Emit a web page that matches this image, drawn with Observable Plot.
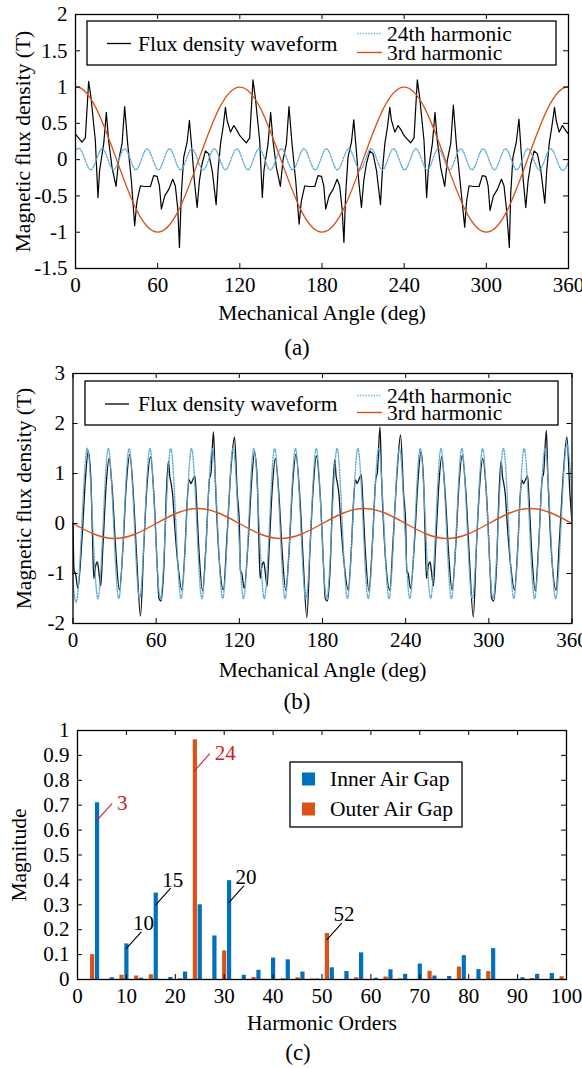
<!DOCTYPE html>
<html><head><meta charset="utf-8">
<script src="https://cdn.jsdelivr.net/npm/d3@7"></script>
<script src="https://cdn.jsdelivr.net/npm/@observablehq/plot@0.6"></script>
<style>
body{margin:0;background:#fff;}
#wrap{position:relative;width:582px;height:1068px;background:#fff;overflow:hidden;font-family:"Liberation Serif","Times New Roman",serif;}
</style></head><body><div id="wrap"></div>
<script>
// ---------------- DATA ----------------
const angleTicks = [0, 60, 120, 180, 240, 300, 360];
const fluxTicksA = [-1.5, -1, -0.5, 0, 0.5, 1, 1.5, 2];
const fluxTicksB = [-2, -1, 0, 1, 2, 3];
const orderTicks = [0, 10, 20, 30, 40, 50, 60, 70, 80, 90, 100];
const magTicks = [0, 0.1, 0.2, 0.3, 0.4, 0.5, 0.6, 0.7, 0.8, 0.9, 1];

// (a) flux density waveform [deg, T]
const waveA1 = [[0,0.35],[4.7,0.24],[7.2,0.30],[9.6,1.08],[11.3,0.86],[14.5,0.26],[16.4,-0.52],[17.6,-0.15],[20.6,0.22],[22.5,0.65],[24.2,0.26],[26.7,-0.11],[29.6,-0.37],[31.5,-0.01],[34,0.22],[35.9,0.73],[38.1,0.22],[40.8,-0.29],[43.2,-0.91],[44.9,-0.57],[47.4,-0.36],[50.3,-0.37],[54.7,-0.37],[57.1,-0.22],[59.6,-0.23],[61.3,-0.36],[62.7,-0.68],[65.2,-0.50],[68.1,-0.41],[71,-0.27],[72.9,-0.36],[74.7,-0.68],[75.9,-1.21],[77.3,-0.47],[79,0.03],[81.5,0.24],[83.2,0.54],[85.1,0.12],[86.8,-0.29],[88.8,-0.66],[90.5,-0.29],[92.4,-0.06],[94.9,0.12],[97.3,0.08],[99.8,-0.15],[102.7,-0.62],[104.1,-0.15],[105.9,0.22],[107.8,0.45],[109.5,0.72],[110.7,0.54],[113.2,0.38],[115.6,0.47],[118,0.40]];
const waveA2 = [[120,0.33],[124.7,0.23],[127.2,0.30],[129.6,1.10],[131.3,0.86],[134.5,0.26],[136.4,-0.52],[137.6,-0.15],[140.6,0.22],[142.5,0.65],[144.2,0.26],[146.7,-0.11],[149.6,-0.37],[151.5,-0.01],[154,0.22],[155.9,0.73],[158.1,0.22],[160.8,-0.29],[163.3,-0.89],[164.9,-0.57],[167.4,-0.36],[170.3,-0.37],[174.7,-0.37],[177.1,-0.22],[179.6,-0.23],[181.3,-0.36],[182.7,-0.68],[185.2,-0.50],[188.1,-0.41],[191,-0.27],[192.9,-0.36],[194.7,-0.68],[196,-1.14],[197.3,-0.47],[199,0.03],[201.5,0.24],[203.2,0.55],[205.1,0.12],[206.8,-0.29],[208.8,-0.66],[210.5,-0.29],[212.4,-0.06],[214.9,0.12],[217.3,0.08],[219.8,-0.15],[222.7,-0.62],[224.1,-0.15],[225.9,0.22],[227.8,0.45],[229.5,0.72],[230.7,0.54],[233.2,0.38],[235.6,0.47],[238,0.40]];
const waveA3 = [[240,0.33],[244.7,0.23],[247.2,0.30],[249.6,1.10],[251.3,0.86],[254.5,0.26],[256.4,-0.52],[257.6,-0.15],[260.6,0.22],[262.5,0.65],[264.2,0.26],[266.7,-0.11],[269.6,-0.37],[271.5,-0.01],[274,0.22],[275.9,0.75],[278.1,0.22],[280.8,-0.29],[284.2,-0.93],[285.6,-0.57],[287.4,-0.36],[290.3,-0.37],[294.7,-0.37],[297.1,-0.22],[299.6,-0.23],[301.3,-0.36],[302.7,-0.70],[305.2,-0.50],[308.1,-0.41],[311,-0.27],[312.9,-0.36],[314.7,-0.68],[316.8,-1.21],[317.8,-0.47],[319.4,0.03],[321.9,0.24],[323.8,0.56],[325.4,0.12],[327,-0.29],[328.8,-0.66],[330.5,-0.29],[332.4,-0.06],[334.9,0.12],[337.3,0.08],[339.8,-0.15],[342.7,-0.60],[344.1,-0.15],[345.9,0.22],[347.8,0.45],[349.8,0.72],[351,0.54],[353.2,0.38],[355.6,0.47],[358,0.40],[360,0.35]];

// (a) 3rd harmonic, read every 15 deg
const h3ADeg = [-15,0,15,30,45,60,75,90,105,120,135,150,165,180,195,210,225,240,255,270,285,300,315,330,345,360,375];
const h3AVal = [0.71,1,0.71,0,-0.71,-1,-0.71,0,0.71,1,0.71,0,-0.71,-1,-0.71,0,0.71,1,0.71,0,-0.71,-1,-0.71,0,0.71,1,0.71];
// (a) 24th harmonic, peaks and troughs
const h24ADeg = [-5.0,3.2,11.4,19.6,27.7,35.9,44.1,52.3,60.5,68.6,76.8,85.0,93.2,101.4,109.5,117.7,125.9,134.1,142.3,150.4,158.6,166.8,175.0,183.2,191.3,199.5,207.7,215.9,224.1,232.2,240.4,248.6,256.8,265.0,273.1,281.3,289.5,297.7,305.9,314.0,322.2,330.4,338.6,346.8,354.9,363.1];
const h24AVal = [-0.14,0.15,-0.14,0.15,-0.14,0.15,-0.14,0.15,-0.14,0.15,-0.14,0.15,-0.14,0.15,-0.14,0.15,-0.14,0.15,-0.14,0.15,-0.14,0.15,-0.14,0.15,-0.14,0.15,-0.14,0.15,-0.14,0.15,-0.14,0.15,-0.14,0.15,-0.14,0.15,-0.14,0.15,-0.14,0.15,-0.14,0.15,-0.14,0.15,-0.14,0.15];

// (b) flux density waveform [deg, T]
const waveB1 = [[0,0.0],[0.8,-0.95],[1.8,-1.0],[3.5,-1.3],[6.5,-0.3],[9,0.9],[11,1.45],[13,0.8],[14,-0.2],[15,-1.1],[16.3,-0.85],[17.6,-0.77],[18.6,-0.95],[20,-1.25],[21.5,-0.5],[24,0.8],[26,1.3],[28.5,0.6],[31,-0.6],[33.5,-1.33],[36,-0.5],[38.5,0.8],[41,1.38],[43.5,0.6],[46,-0.7],[48.7,-1.85],[51,-0.5],[53.5,0.8],[56,1.33],[58.5,0.5],[61,-1.0],[62,-1.5],[63.5,-1.55],[65.5,-0.9],[67.5,0.7],[68.9,1.25],[69.8,0.95],[70.6,0.83],[71.8,0.6],[73.5,-0.1],[76,-0.9],[78.5,-1.33],[81,-0.4],[82.5,0.5],[83.8,0.87],[85,0.8],[86.5,0.88],[88,0.95],[89,0.5],[91,-0.6],[93.5,-1.35],[96,-0.4],[98.5,0.9],[99.5,1.0],[101.3,1.83],[102.5,1.0],[104,0.0],[106,-0.9],[108.5,-1.33],[111,-0.3],[114,1.1],[116.5,1.73],[118.5,0.6]];
const waveB2 = [[120,0.0],[120.8,-0.95],[121.8,-1.0],[123.5,-1.3],[126.5,-0.3],[129,0.9],[131,1.42],[133,0.8],[134,-0.2],[135,-1.1],[136.3,-0.85],[137.6,-0.77],[138.6,-0.95],[140,-1.25],[141.5,-0.5],[144,0.8],[146,1.3],[148.5,0.6],[151,-0.6],[153.5,-1.33],[156,-0.5],[158.5,0.8],[160.8,1.38],[163.5,0.6],[166,-0.7],[168.7,-1.88],[171,-0.5],[173.5,0.8],[175.5,1.35],[178.5,0.5],[181,-1.0],[182,-1.5],[183.5,-1.55],[185.5,-0.9],[187.5,0.7],[188.9,1.28],[189.8,0.95],[190.6,0.83],[191.8,0.6],[193.5,-0.1],[196,-0.9],[198.5,-1.33],[201,-0.4],[202.5,0.5],[203.8,0.87],[205,0.8],[206.5,0.9],[208,0.97],[209,0.5],[211,-0.6],[213.5,-1.35],[216,-0.4],[218.5,0.9],[219.5,1.0],[221.5,1.93],[222.5,1.0],[224,0.0],[226,-0.9],[228.5,-1.33],[231,-0.3],[234,1.1],[236.3,1.77],[238.5,0.6]];
const waveB3 = [[240,0.0],[240.8,-0.95],[241.8,-1.0],[243.5,-1.3],[246.5,-0.3],[249,0.9],[251,1.43],[253,0.8],[254,-0.2],[255,-1.1],[256.3,-0.85],[257.6,-0.77],[258.6,-0.95],[260,-1.25],[261.5,-0.5],[264,0.8],[266,1.33],[268.5,0.6],[271,-0.6],[273.5,-1.33],[276,-0.5],[278.5,0.8],[280.8,1.36],[283.5,0.6],[286,-0.7],[288.8,-1.87],[291,-0.5],[293.5,0.8],[295.5,1.3],[298.5,0.5],[301,-1.0],[302,-1.5],[303.5,-1.55],[305.5,-0.9],[307.5,0.7],[308.9,1.25],[309.8,0.95],[310.6,0.83],[311.8,0.6],[313.5,-0.1],[316,-0.9],[318.5,-1.33],[321,-0.4],[322.5,0.5],[323.8,0.87],[325,0.8],[326.5,0.88],[328,0.95],[329,0.5],[331,-0.6],[333.5,-1.35],[336,-0.4],[338.5,0.9],[339.5,1.0],[341.5,1.86],[342.5,1.0],[344,0.0],[346,-0.9],[348.5,-1.33],[351,-0.3],[354,1.1],[356.3,1.73],[358.5,0.6],[360,0.0]];
// (b) 3rd harmonic, read every 15 deg
const h3BDeg = [0,15,30,45,60,75,90,105,120,135,150,165,180,195,210,225,240,255,270,285,300,315,330,345,360];
const h3BVal = [0,-0.21,-0.3,-0.21,0,0.21,0.3,0.21,0,-0.21,-0.3,-0.21,0,0.21,0.3,0.21,0,-0.21,-0.3,-0.21,0,0.21,0.3,0.21,0];
// (b) 24th harmonic, peaks and troughs
const h24BDeg = [-4.5,3,10.5,18,25.5,33,40.5,48,55.5,63,70.5,78,85.5,93,100.5,108,115.5,123,130.5,138,145.5,153,160.5,168,175.5,183,190.5,198,205.5,213,220.5,228,235.5,243,250.5,258,265.5,273,280.5,288,295.5,303,310.5,318,325.5,333,340.5,348,355.5,363];
const h24BVal = [1.5,-1.5,1.5,-1.5,1.5,-1.5,1.5,-1.5,1.5,-1.5,1.5,-1.5,1.5,-1.5,1.5,-1.5,1.5,-1.5,1.5,-1.5,1.5,-1.5,1.5,-1.5,1.5,-1.5,1.5,-1.5,1.5,-1.5,1.5,-1.5,1.5,-1.5,1.5,-1.5,1.5,-1.5,1.5,-1.5,1.5,-1.5,1.5,-1.5,1.5,-1.5,1.5,-1.5,1.5,-1.5];

// (c) harmonic spectrum
const innerOrder = [4,7,10,13,16,19,22,25,28,31,34,37,40,43,46,49,52,55,58,61,64,67,70,73,76,79,82,85,91,94,97];
const innerMag = [0.71,0.007,0.143,0.005,0.347,0.008,0.03,0.30,0.175,0.397,0.017,0.037,0.086,0.079,0.03,0.002,0.047,0.032,0.107,0.005,0.039,0.021,0.062,0.014,0.012,0.096,0.04,0.124,0.007,0.021,0.024];
const outerOrder = [3,9,12,15,21,24,30,36,42,45,48,51,57,63,66,72,78,84,93,99];
const outerMag = [0.10,0.017,0.014,0.019,0.003,0.963,0.115,0.008,0.003,0.007,0.002,0.185,0.007,0.01,0.003,0.033,0.05,0.032,0.004,0.011];
// labelled harmonics: bar order, where the leader line starts, label
const annoRedOrder = [4, 24];
const annoRedStart = [0.64, 0.84];
const annoRedText = ["3", "24"];
const annoBlkOrder = [10, 16, 31, 51];
const annoBlkStart = [0.125, 0.30, 0.31, 0.16];
const annoBlkText = ["10", "15", "20", "52"];

// ---------------- DRAW ----------------
const FONT = '"Liberation Serif", "Times New Roman", serif';
const BLUE = "#0072BD", ORANGE = "#D95319", CYAN = "#62a9d4", RED = "#c8202a";
const zip = (xs, ys) => xs.map((x, i) => [x, ys[i]]);
const wrap = document.getElementById("wrap");
function place(el, top) {
  el.style.position = "absolute"; el.style.left = "0px"; el.style.top = top + "px";
  wrap.appendChild(el);
}
const style = {fontFamily: FONT, fontSize: "21px", background: "transparent", color: "#000", overflow: "visible"};

function frameMarks(xt, yt, o) {
  const fh = o.height - o.marginTop - o.marginBottom;
  const fw = o.width - o.marginLeft - o.marginRight;
  const L = 5;
  return [
    Plot.tickX(xt, {x: d => d, insetTop: fh - L, stroke: "#000", strokeWidth: 1}),
    Plot.tickX(xt, {x: d => d, insetBottom: fh - L, stroke: "#000", strokeWidth: 1}),
    Plot.tickY(yt, {y: d => d, insetRight: fw - L, stroke: "#000", strokeWidth: 1}),
    Plot.tickY(yt, {y: d => d, insetLeft: fw - L, stroke: "#000", strokeWidth: 1}),
    Plot.frame({stroke: "#000", strokeWidth: 1.3}),
    Plot.axisX(xt, {anchor: "bottom", tickSize: 0, tickPadding: 9, tickFormat: d => String(d), fontSize: 21, label: null}),
    Plot.axisY(yt, {anchor: "left", tickSize: 0, tickPadding: 8, tickFormat: d => String(d), fontSize: 21, label: null}),
    Plot.text([o.xLabel], {text: d => d, frameAnchor: "bottom", textAnchor: "middle", lineAnchor: "middle", dy: o.xLabelDy, fontSize: 21.5}),
    Plot.text([o.yLabel], {text: d => d, frameAnchor: "left", textAnchor: "middle", lineAnchor: "middle", rotate: -90, dx: o.yLabelDx, fontSize: 21.5})
  ];
}

// Panel (a)
const oA = {width: 582, height: 330, marginTop: 14, marginBottom: 62, marginLeft: 75, marginRight: 14,
  xLabel: "Mechanical Angle (deg)", xLabelDy: 45, yLabel: "Magnetic flux density (T)", yLabelDx: -52};
const plotA = Plot.plot({
  width: oA.width, height: oA.height, marginTop: oA.marginTop, marginBottom: oA.marginBottom,
  marginLeft: oA.marginLeft, marginRight: oA.marginRight, style,
  x: {domain: [0, 360]}, y: {domain: [-1.5, 2]},
  marks: [
    Plot.line(waveA1.concat(waveA2, waveA3), {x: d => d[0], y: d => d[1], stroke: "#000", strokeWidth: 1.2, clip: true}),
    Plot.line(zip(h24ADeg, h24AVal), {x: d => d[0], y: d => d[1], curve: "natural", stroke: CYAN, strokeWidth: 1.4, strokeDasharray: "1.2 1.6", clip: true}),
    Plot.line(zip(h3ADeg, h3AVal), {x: d => d[0], y: d => d[1], curve: "natural", stroke: ORANGE, strokeWidth: 1.3, clip: true}),
    ...frameMarks(angleTicks, fluxTicksA, oA)
  ]
});
place(plotA, 0);

// Panel (b)
const oB = {width: 582, height: 350, marginTop: 33, marginBottom: 67, marginLeft: 72.5, marginRight: 10.5,
  xLabel: "Mechanical Angle (deg)", xLabelDy: 47, yLabel: "Magnetic flux density (T)", yLabelDx: -49};
const plotB = Plot.plot({
  width: oB.width, height: oB.height, marginTop: oB.marginTop, marginBottom: oB.marginBottom,
  marginLeft: oB.marginLeft, marginRight: oB.marginRight, style,
  x: {domain: [0, 360]}, y: {domain: [-2, 3]},
  marks: [
    Plot.line(waveB1.concat(waveB2, waveB3), {x: d => d[0], y: d => d[1], curve: "monotone-x", stroke: "#0d1620", strokeWidth: 1.3, clip: true}),
    Plot.line(zip(h24BDeg, h24BVal), {x: d => d[0], y: d => d[1], curve: "natural", stroke: CYAN, strokeWidth: 1.4, strokeDasharray: "1.2 1.6", clip: true}),
    Plot.line(zip(h3BDeg, h3BVal), {x: d => d[0], y: d => d[1], curve: "natural", stroke: ORANGE, strokeWidth: 1.4, clip: true}),
    ...frameMarks(angleTicks, fluxTicksB, oB)
  ]
});
place(plotB, 340);

// Panel (c)
const inner = zip(innerOrder, innerMag), outer = zip(outerOrder, outerMag);
const annoRed = annoRedOrder.map((x, i) => ({x, y: annoRedStart[i], t: annoRedText[i]}));
const annoBlk = annoBlkOrder.map((x, i) => ({x, y: annoBlkStart[i], t: annoBlkText[i]}));
const leader = {draw(ctx, l) { ctx.moveTo(0, 0); ctx.lineTo(0, -l); }};
const oC = {width: 582, height: 340, marginTop: 30, marginBottom: 61, marginLeft: 77, marginRight: 16,
  xLabel: "Harmonic Orders", xLabelDy: 44, yLabel: "Magnitude", yLabelDx: -58};
const plotC = Plot.plot({
  width: oC.width, height: oC.height, marginTop: oC.marginTop, marginBottom: oC.marginBottom,
  marginLeft: oC.marginLeft, marginRight: oC.marginRight, style,
  x: {domain: [0, 100]}, y: {domain: [0, 1]},
  marks: [
    Plot.ruleX(outer, {x: d => d[0], y1: 0, y2: d => d[1], stroke: ORANGE, strokeWidth: 4.2}),
    Plot.ruleX(inner, {x: d => d[0], y1: 0, y2: d => d[1], stroke: BLUE, strokeWidth: 4.2}),
    Plot.vector(annoRed, {x: "x", y: "y", length: 22, rotate: 42, anchor: "start", shape: leader, stroke: RED, strokeWidth: 1.1}),
    Plot.vector(annoBlk, {x: "x", y: "y", length: 22, rotate: 42, anchor: "start", shape: leader, stroke: "#000", strokeWidth: 1.1}),
    Plot.text(annoRed, {x: "x", y: "y", text: "t", dx: 20, dy: -17, textAnchor: "start", fill: RED, fontSize: 21}),
    Plot.text(annoBlk, {x: "x", y: "y", text: "t", dx: 17, dy: -25, fill: "#000", fontSize: 21}),
    ...frameMarks(orderTicks, magTicks, oC)
  ]
});
place(plotC, 700);

// Legends and captions overlay
const ov = d3.create("svg").attr("width", 582).attr("height", 1068)
  .style("position", "absolute").style("left", "0px").style("top", "0px")
  .style("font-family", FONT).style("pointer-events", "none");
function lineLegend(x, y, w, h, blackY, blackX, cyanY, orangeY) {
  ov.append("rect").attr("x", x).attr("y", y).attr("width", w).attr("height", h)
    .attr("fill", "#fff").attr("stroke", "#000").attr("stroke-width", 1.3);
  ov.append("line").attr("x1", blackX).attr("x2", blackX + 24).attr("y1", blackY).attr("y2", blackY).attr("stroke", "#000").attr("stroke-width", 1.3);
  ov.append("text").attr("x", 138).attr("y", blackY).attr("dy", "0.33em").attr("font-size", 21.5).text("Flux density waveform");
  ov.append("line").attr("x1", 357).attr("x2", 382).attr("y1", cyanY).attr("y2", cyanY).attr("stroke", CYAN).attr("stroke-width", 1.4).attr("stroke-dasharray", "1.2 1.6");
  ov.append("text").attr("x", 387).attr("y", cyanY).attr("dy", "0.33em").attr("font-size", 21.5).text("24th harmonic");
  ov.append("line").attr("x1", 357).attr("x2", 382).attr("y1", orangeY).attr("y2", orangeY).attr("stroke", ORANGE).attr("stroke-width", 1.4);
  ov.append("text").attr("x", 387).attr("y", orangeY).attr("dy", "0.33em").attr("font-size", 21.5).text("3rd harmonic");
}
lineLegend(87, 21, 469, 44, 43.5, 107, 33.5, 52.5);
lineLegend(85, 381, 473, 44, 404, 105, 395.5, 412.5);
// bar legend
ov.append("rect").attr("x", 290).attr("y", 762).attr("width", 172).attr("height", 65)
  .attr("fill", "#fff").attr("stroke", "#000").attr("stroke-width", 1.3);
[["Inner Air Gap", BLUE, 779], ["Outer Air Gap", ORANGE, 809]].forEach(([t, c, y]) => {
  ov.append("rect").attr("x", 302).attr("y", y - 6.5).attr("width", 13).attr("height", 13).attr("fill", c);
  ov.append("text").attr("x", 330).attr("y", y).attr("dy", "0.33em").attr("font-size", 21.5).text(t);
});
[["(a)", 297, 347], ["(b)", 297, 701], ["(c)", 298, 1052]].forEach(([t, x, y]) => {
  ov.append("text").attr("x", x).attr("y", y).attr("dy", "0.33em").attr("text-anchor", "middle").attr("font-size", 23).text(t);
});
wrap.appendChild(ov.node());
</script></body></html>
